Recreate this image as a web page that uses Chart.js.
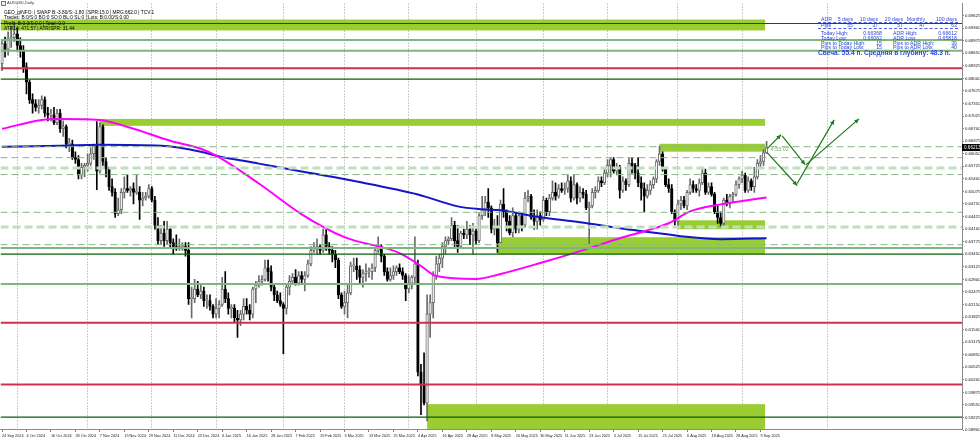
<!DOCTYPE html>
<html>
<head>
<meta charset="utf-8">
<title>AUDUSD,Daily</title>
<script src="https://cdn.jsdelivr.net/npm/chart.js@4.4.1/dist/chart.umd.min.js"></script>
<style>
  html, body { margin: 0; padding: 0; background: #fff; }
  #wrap { position: relative; width: 980px; height: 441px; overflow: hidden; font-family: 'Liberation Sans', Arial, sans-serif; }
  #chart { position: absolute; left: 0; top: 0; }
  .t { position: absolute; white-space: nowrap; line-height: 1; }
  .info { font-size: 4.8px; color: #000; }
  .adr { font-size: 5.2px; color: #2b45d8; }
  .r { transform: translateX(-100%); }
  .dash { position: absolute; left: 818px; width: 140px; height: 0; border-top: 1px dashed #4a63e0; }
  .icon { position: absolute; left: 1px; top: 1px; width: 3px; height: 3px; border: 1px solid #777; background: #eee; }
</style>
</head>
<body>
<div id="wrap">
  <canvas id="chart" width="980" height="441"></canvas>
  <div class="icon"></div>
</div>
<script>
// date labels, one every 8 bars
const dateLabels = ['24 Sep 2024', '4 Oct 2024', '16 Oct 2024', '28 Oct 2024', '7 Nov 2024', '19 Nov 2024',
    '29 Nov 2024', '11 Dec 2024', '23 Dec 2024', '6 Jan 2025', '16 Jan 2025', '28 Jan 2025', '7 Feb 2025',
    '19 Feb 2025', '3 Mar 2025', '13 Mar 2025', '25 Mar 2025', '4 Apr 2025', '16 Apr 2025', '28 Apr 2025',
    '8 May 2025', '20 May 2025', '30 May 2025', '11 Jun 2025', '23 Jun 2025', '3 Jul 2025', '15 Jul 2025',
    '25 Jul 2025', '6 Aug 2025', '18 Aug 2025', '28 Aug 2025', '9 Sep 2025'];

// bars where a new month starts (period separators)
const monthBars = [5, 28, 49, 70, 92, 112, 133, 155, 177, 198, 221, 242, 270];

const priceTicks = [0.69625, 0.69300, 0.68975, 0.68650, 0.68325, 0.68000, 0.67675, 0.67350, 0.67025, 0.66700,
    0.66375, 0.66050, 0.65725, 0.65400, 0.65075, 0.64750, 0.64425, 0.64100, 0.63775, 0.63450, 0.63125, 0.62800,
    0.62475, 0.62150, 0.61825, 0.61500, 0.61175, 0.60850, 0.60525, 0.60200, 0.59875, 0.59550, 0.59225, 0.58900];

// daily OHLC, price x 10000
const opens = [6838, 6890, 6875, 6905, 6905, 6915, 6885, 6870, 6830, 6790, 6745, 6735, 6725, 6730, 6745, 6710, 6705, 6705, 6685, 6710,
    6670, 6675, 6630, 6630, 6595, 6590, 6550, 6570, 6575, 6580, 6605, 6625, 6560, 6675, 6585, 6565, 6520, 6505, 6450, 6460,
    6505, 6515, 6510, 6515, 6505, 6505, 6485, 6490, 6495, 6515, 6485, 6420, 6380, 6400, 6380, 6410, 6375, 6365, 6360, 6365,
    6365, 6355, 6230, 6230, 6255, 6240, 6250, 6225, 6225, 6210, 6190, 6205, 6215, 6255, 6230, 6205, 6205, 6180, 6175, 6190,
    6210, 6200, 6190, 6255, 6265, 6275, 6280, 6310, 6300, 6260, 6240, 6225, 6215, 6205, 6260, 6275, 6285, 6270, 6290, 6280,
    6290, 6320, 6355, 6360, 6365, 6355, 6395, 6365, 6355, 6345, 6330, 6240, 6210, 6220, 6245, 6315, 6315, 6305, 6285, 6295,
    6300, 6300, 6310, 6355, 6365, 6340, 6300, 6280, 6290, 6300, 6310, 6300, 6290, 6255, 6270, 6285, 6320, 6040, 6010, 5960,
    6190, 6220, 6290, 6320, 6335, 6365, 6380, 6385, 6420, 6380, 6365, 6400, 6395, 6410, 6395, 6405, 6380, 6445, 6460, 6480,
    6465, 6410, 6415, 6375, 6475, 6455, 6430, 6400, 6445, 6410, 6445, 6420, 6490, 6495, 6440, 6430, 6445, 6435, 6485, 6455,
    6490, 6505, 6495, 6515, 6510, 6515, 6535, 6490, 6525, 6490, 6505, 6500, 6465, 6470, 6505, 6510, 6535, 6530, 6555, 6575,
    6590, 6560, 6570, 6510, 6535, 6525, 6580, 6575, 6555, 6530, 6515, 6495, 6510, 6525, 6540, 6585, 6605, 6565, 6525, 6515,
    6455, 6430, 6475, 6485, 6470, 6505, 6525, 6515, 6510, 6530, 6555, 6505, 6520, 6500, 6455, 6440, 6425, 6485, 6475, 6495,
    6500, 6525, 6540, 6550, 6510, 6535, 6520, 6545, 6580, 6585, 6607];
const highs = [6900, 6907, 6920, 6935, 6942, 6930, 6905, 6885, 6840, 6795, 6760, 6745, 6745, 6755, 6752, 6725, 6720, 6725, 6720, 6720,
    6690, 6680, 6645, 6640, 6610, 6600, 6580, 6580, 6605, 6620, 6630, 6688, 6685, 6680, 6595, 6570, 6540, 6515, 6490, 6515,
    6545, 6550, 6520, 6530, 6550, 6520, 6505, 6505, 6525, 6520, 6495, 6440, 6420, 6430, 6430, 6415, 6385, 6395, 6385, 6375,
    6375, 6375, 6260, 6280, 6275, 6265, 6260, 6240, 6240, 6215, 6230, 6225, 6285, 6300, 6245, 6215, 6215, 6200, 6200, 6230,
    6230, 6215, 6260, 6275, 6290, 6290, 6330, 6330, 6315, 6270, 6250, 6245, 6220, 6265, 6290, 6295, 6305, 6300, 6300, 6300,
    6330, 6365, 6375, 6385, 6370, 6410, 6409, 6375, 6365, 6355, 6335, 6245, 6250, 6270, 6325, 6335, 6335, 6315, 6305, 6320,
    6310, 6320, 6360, 6390, 6370, 6345, 6310, 6310, 6315, 6315, 6320, 6310, 6295, 6290, 6290, 6390, 6330, 6060, 6090, 6240,
    6240, 6300, 6340, 6345, 6375, 6390, 6390, 6440, 6430, 6420, 6405, 6410, 6430, 6420, 6425, 6410, 6450, 6495, 6495, 6515,
    6470, 6435, 6445, 6485, 6515, 6460, 6445, 6465, 6450, 6455, 6450, 6505, 6510, 6500, 6460, 6460, 6455, 6495, 6490, 6500,
    6535, 6530, 6525, 6530, 6530, 6550, 6545, 6550, 6530, 6520, 6515, 6510, 6480, 6515, 6520, 6545, 6545, 6565, 6590, 6595,
    6595, 6580, 6575, 6545, 6540, 6595, 6595, 6580, 6595, 6545, 6530, 6525, 6535, 6545, 6590, 6625, 6610, 6570, 6540, 6525,
    6460, 6485, 6495, 6495, 6510, 6540, 6535, 6525, 6540, 6570, 6565, 6530, 6530, 6505, 6470, 6455, 6490, 6500, 6500, 6505,
    6535, 6545, 6560, 6555, 6545, 6540, 6570, 6590, 6600, 6615, 6637];
const lows = [6820, 6855, 6860, 6880, 6895, 6870, 6855, 6815, 6760, 6735, 6710, 6715, 6710, 6720, 6700, 6690, 6690, 6680, 6680, 6660,
    6650, 6620, 6610, 6590, 6580, 6540, 6540, 6545, 6560, 6575, 6590, 6512, 6555, 6575, 6545, 6510, 6495, 6440, 6445, 6450,
    6490, 6505, 6495, 6475, 6500, 6435, 6470, 6485, 6490, 6480, 6410, 6370, 6370, 6365, 6370, 6360, 6345, 6355, 6355, 6355,
    6340, 6215, 6180, 6220, 6235, 6230, 6210, 6205, 6200, 6180, 6180, 6180, 6210, 6220, 6190, 6180, 6170, 6130, 6160, 6175,
    6190, 6175, 6180, 6220, 6260, 6265, 6275, 6275, 6250, 6225, 6220, 6210, 6088, 6190, 6240, 6270, 6265, 6265, 6270, 6250,
    6285, 6315, 6350, 6345, 6345, 6350, 6355, 6345, 6325, 6310, 6230, 6205, 6190, 6180, 6240, 6300, 6280, 6270, 6260, 6275,
    6285, 6280, 6300, 6350, 6325, 6290, 6275, 6275, 6280, 6290, 6295, 6280, 6225, 6245, 6255, 6270, 6030, 5930, 5955, 5914,
    6130, 6180, 6280, 6300, 6310, 6345, 6370, 6380, 6365, 6350, 6360, 6385, 6385, 6370, 6345, 6370, 6375, 6435, 6445, 6440,
    6400, 6395, 6350, 6375, 6440, 6405, 6395, 6390, 6400, 6400, 6405, 6415, 6480, 6435, 6410, 6410, 6420, 6430, 6445, 6445,
    6485, 6485, 6490, 6505, 6500, 6505, 6480, 6485, 6475, 6480, 6490, 6460, 6372, 6465, 6490, 6505, 6520, 6525, 6545, 6545,
    6555, 6550, 6490, 6505, 6510, 6520, 6555, 6540, 6520, 6485, 6455, 6490, 6500, 6515, 6530, 6575, 6560, 6520, 6505, 6450,
    6420, 6418, 6460, 6465, 6460, 6500, 6505, 6505, 6495, 6525, 6500, 6500, 6495, 6450, 6425, 6415, 6415, 6470, 6465, 6480,
    6495, 6515, 6530, 6505, 6505, 6510, 6505, 6540, 6570, 6575, 6606];
const closes = [6890, 6875, 6905, 6905, 6915, 6885, 6870, 6830, 6790, 6745, 6735, 6725, 6730, 6745, 6710, 6705, 6705, 6685, 6710, 6670,
    6675, 6630, 6630, 6595, 6590, 6550, 6570, 6575, 6580, 6605, 6625, 6560, 6675, 6585, 6565, 6520, 6505, 6450, 6460, 6505,
    6515, 6510, 6515, 6505, 6505, 6485, 6490, 6495, 6515, 6485, 6420, 6380, 6400, 6380, 6410, 6375, 6365, 6360, 6365, 6365,
    6355, 6230, 6230, 6255, 6240, 6250, 6225, 6225, 6210, 6190, 6205, 6215, 6255, 6230, 6205, 6205, 6180, 6175, 6190, 6210,
    6200, 6190, 6255, 6265, 6275, 6280, 6310, 6300, 6260, 6240, 6225, 6215, 6205, 6260, 6275, 6285, 6270, 6290, 6280, 6290,
    6320, 6355, 6360, 6365, 6355, 6395, 6365, 6355, 6345, 6330, 6240, 6210, 6220, 6245, 6315, 6315, 6305, 6285, 6295, 6300,
    6300, 6310, 6355, 6365, 6340, 6300, 6280, 6290, 6300, 6310, 6300, 6290, 6255, 6270, 6285, 6320, 6040, 6010, 5960, 6190,
    6220, 6290, 6320, 6335, 6365, 6380, 6385, 6420, 6380, 6365, 6400, 6395, 6410, 6395, 6405, 6380, 6445, 6460, 6480, 6465,
    6410, 6415, 6375, 6475, 6455, 6430, 6400, 6445, 6410, 6445, 6420, 6490, 6495, 6440, 6430, 6445, 6435, 6485, 6455, 6490,
    6505, 6495, 6515, 6510, 6515, 6535, 6490, 6525, 6490, 6505, 6500, 6465, 6470, 6505, 6510, 6535, 6530, 6555, 6575, 6590,
    6560, 6570, 6510, 6535, 6525, 6580, 6575, 6555, 6530, 6515, 6495, 6510, 6525, 6540, 6585, 6605, 6565, 6525, 6515, 6455,
    6430, 6475, 6485, 6470, 6505, 6525, 6515, 6510, 6530, 6555, 6505, 6520, 6500, 6455, 6440, 6425, 6485, 6475, 6495, 6500,
    6525, 6540, 6550, 6510, 6535, 6520, 6545, 6580, 6585, 6607, 6621];

// moving averages, read at sample bars
const magentaBars = [0, 13, 19, 32, 42, 55, 65, 70, 84, 98, 112, 130, 137, 142, 155, 163, 176, 189, 202, 210, 218, 225, 235, 241, 250];
const magentaMA = [0.66694, 0.66925, 0.66951, 0.66925, 0.66720, 0.66385, 0.66180, 0.66000, 0.65280, 0.64483, 0.63891, 0.63480,
    0.63146, 0.62889, 0.62811, 0.62940, 0.63223, 0.63531, 0.63865, 0.64045, 0.64251, 0.64560, 0.64740, 0.64817, 0.64920];
const blueBars = [0, 19, 32, 52, 65, 70, 84, 98, 116, 136, 149, 157, 163, 176, 189, 202, 212, 222, 235, 250];
const blueMA = [0.66231, 0.66257, 0.66282, 0.66257, 0.66103, 0.66000, 0.65794, 0.65588, 0.65331, 0.64997, 0.64688, 0.64611,
    0.64585, 0.64405, 0.64277, 0.64123, 0.64020, 0.63917, 0.63840, 0.63866];

// horizontal levels
const redLevels = [0.68262, 0.61680, 0.60078];
const greenLevels = [0.68995, 0.68713, 0.63608, 0.62682];
const darkLevels = [0.69419, 0.67980, 0.63454, 0.59237];
const dashedLevels = [0.66231, 0.65948, 0.65511, 0.64534, 0.63698];
const paleDashedLevels = [0.65678, 0.64156];

// green zones: first bar, top, bottom (all end at the last bar)
const zoneStart = [-0.49, 32, 215, 221, 162, 139];
const zoneTop = [0.69522, 0.66951, 0.66308, 0.64328, 0.63891, 0.59572];
const zoneBottom = [0.69239, 0.66771, 0.66103, 0.64097, 0.63454, 0.58900];
const zoneEnd = 249.5;

// projected path arrows: [bar, price] from -> to
const arrowFrom = [[250.2, 0.66180], [250.2, 0.66077], [255.1, 0.66514], [260.0, 0.65280], [262.9, 0.65768]];
const arrowTo = [[254.7, 0.66540], [260.0, 0.65228], [262.6, 0.65768], [272.1, 0.66925], [280.2, 0.66951]];

const FONT = "'Liberation Sans', Arial, sans-serif";
const bars = closes.map((_, i) => i);
const isUp = (i) => closes[i] >= opens[i];

function hLine(ctx, area, y, color, width, dash) {
    ctx.save();
    ctx.strokeStyle = color;
    ctx.lineWidth = width;
    ctx.setLineDash(dash || []);
    ctx.beginPath();
    ctx.moveTo(area.left, y);
    ctx.lineTo(area.right, y);
    ctx.stroke();
    ctx.restore();
}

const zonesPlugin = {
    id: 'zones',
    beforeDatasetsDraw(chart) {
        const { ctx, chartArea: a, scales: { x, y } } = chart;
        ctx.save();
        ctx.beginPath();
        ctx.rect(a.left, a.top, a.right - a.left, a.bottom - a.top);
        ctx.clip();
        ctx.fillStyle = '#9acd32';
        zoneStart.forEach((s, k) => {
            const x0 = x.getPixelForValue(s);
            const x1 = x.getPixelForValue(zoneEnd);
            const y0 = y.getPixelForValue(zoneTop[k]);
            const y1 = y.getPixelForValue(zoneBottom[k]);
            ctx.fillRect(x0, y0, x1 - x0, y1 - y0);
        });
        ctx.restore();
    },
    afterDatasetsDraw(chart) {
        const { ctx, chartArea: a, scales: { x, y } } = chart;
        ctx.save();
        ctx.beginPath();
        ctx.rect(a.left, a.top, a.right - a.left, a.bottom - a.top);
        ctx.clip();
        paleDashedLevels.forEach((p) => hLine(ctx, a, y.getPixelForValue(p), '#bfe0bf', 3, [8, 4]));
        dashedLevels.forEach((p) => hLine(ctx, a, y.getPixelForValue(p), '#86b886', 1, [7, 4]));
        greenLevels.forEach((p) => hLine(ctx, a, y.getPixelForValue(p), '#7cb87c', 2));
        darkLevels.forEach((p) => hLine(ctx, a, y.getPixelForValue(p), '#0b5d0b', 1.2));
        redLevels.forEach((p) => hLine(ctx, a, y.getPixelForValue(p), '#d0304f', 2));

        // arrows
        ctx.strokeStyle = '#1d7a1d';
        ctx.fillStyle = '#1d7a1d';
        ctx.lineWidth = 1.2;
        arrowFrom.forEach((f, k) => {
            const t = arrowTo[k];
            const x0 = x.getPixelForValue(f[0]), y0 = y.getPixelForValue(f[1]);
            const x1 = x.getPixelForValue(t[0]), y1 = y.getPixelForValue(t[1]);
            ctx.beginPath();
            ctx.moveTo(x0, y0);
            ctx.lineTo(x1, y1);
            ctx.stroke();
            const ang = Math.atan2(y1 - y0, x1 - x0);
            ctx.beginPath();
            ctx.moveTo(x1, y1);
            ctx.lineTo(x1 - 5 * Math.cos(ang - 0.45), y1 - 5 * Math.sin(ang - 0.45));
            ctx.lineTo(x1 - 5 * Math.cos(ang + 0.45), y1 - 5 * Math.sin(ang + 0.45));
            ctx.closePath();
            ctx.fill();
        });

        // bar timer next to the last candle
        const last = closes.length - 1;
        ctx.fillStyle = '#7fb07f';
        ctx.font = '5.5px ' + FONT;
        ctx.textBaseline = 'middle';
        ctx.fillText('4:53:02', x.getPixelForValue(last) + 4, y.getPixelForValue(highs[last] / 1e4) + 8);
        ctx.restore();
    },
    afterDraw(chart) {
        const { ctx, chartArea: a, scales: { y } } = chart;
        const last = closes.length - 1;
        const py = y.getPixelForValue(closes[last] / 1e4);
        ctx.save();
        ctx.fillStyle = '#000';
        ctx.fillRect(a.right, py - 3.5, 980 - a.right, 7);
        ctx.fillStyle = '#fff';
        ctx.font = '4.6px ' + FONT;
        ctx.textBaseline = 'middle';
        ctx.fillText((closes[last] / 1e4 + 0.00003).toFixed(5), a.right + 2, py);
        ctx.restore();
    },
};

const bodyColor = (c) => (isUp(c.dataIndex) ? '#ffffff' : '#000000');
const lineColor = (c) => (isUp(c.dataIndex) ? '#6a6a6a' : '#000000');

new Chart(document.getElementById('chart').getContext('2d'), {
    type: 'bar',
    data: {
        datasets: [
            {
                type: 'line',
                data: magentaBars.map((b, k) => ({ x: b, y: magentaMA[k] })),
                borderColor: '#ff00ff',
                borderWidth: 2,
                pointRadius: 0,
                cubicInterpolationMode: 'monotone',
                order: 0,
            },
            {
                type: 'line',
                data: blueBars.map((b, k) => ({ x: b, y: blueMA[k] })),
                borderColor: '#1414c8',
                borderWidth: 2,
                pointRadius: 0,
                cubicInterpolationMode: 'monotone',
                order: 0,
            },
            {
                data: bars.map((i) => ({ x: i, y: [opens[i] / 1e4, closes[i] / 1e4] })),
                backgroundColor: bodyColor,
                borderColor: lineColor,
                borderWidth: 1,
                borderSkipped: false,
                barThickness: 2.6,
                minBarLength: 1,
                grouped: false,
                order: 1,
            },
            {
                data: bars.map((i) => ({ x: i, y: [lows[i] / 1e4, highs[i] / 1e4] })),
                backgroundColor: lineColor,
                borderWidth: 0,
                barThickness: 1,
                grouped: false,
                order: 2,
            },
        ],
    },
    options: {
        responsive: false,
        animation: false,
        events: [],
        layout: { autoPadding: false, padding: { top: 1, left: 0, right: 0, bottom: 0 } },
        plugins: { legend: { display: false }, tooltip: { enabled: false } },
        scales: {
            x: {
                type: 'linear',
                position: 'bottom',
                offset: false,
                min: -0.49,
                max: 313.9,
                afterBuildTicks: (s) => { s.ticks = dateLabels.map((_, k) => ({ value: k * 8 })); },
                afterFit: (s) => { s.height = 12; },
                ticks: {
                    autoSkip: false,
                    maxRotation: 0,
                    align: 'start',
                    padding: 2,
                    color: '#222',
                    font: { family: FONT, size: 3.8 },
                    callback: (v, k) => dateLabels[k],
                },
                grid: { drawOnChartArea: false, offset: false, tickLength: 3, color: '#808080' },
                border: { color: '#8a8a8a' },
            },
            sep: {
                type: 'linear',
                position: 'bottom',
                offset: false,
                min: -0.49,
                max: 313.9,
                afterBuildTicks: (s) => { s.ticks = monthBars.map((v) => ({ value: v })); },
                afterFit: (s) => { s.height = 0; },
                ticks: { display: false },
                grid: { drawTicks: false, offset: false, color: '#9a9a9a', lineWidth: 1 },
                border: { display: false, dash: [1, 2] },
            },
            y: {
                type: 'linear',
                position: 'right',
                min: 0.58929,
                max: 0.69934,
                afterBuildTicks: (s) => { s.ticks = priceTicks.map((v) => ({ value: v })); },
                afterFit: (s) => { s.width = 18; },
                ticks: {
                    padding: 1,
                    color: '#111',
                    font: { family: FONT, size: 4.3 },
                    callback: (v) => v.toFixed(5),
                },
                grid: { drawOnChartArea: false, tickLength: 2, color: '#808080' },
                border: { color: '#8a8a8a' },
            },
        },
    },
    plugins: [zonesPlugin],
});

// chart comments (info block top-left, ADR table top-right)
const wrap = document.getElementById('wrap');
function addText(text, x, y, cls, style) {
    const el = document.createElement('div');
    el.className = 't ' + cls;
    el.textContent = text;
    el.style.left = x + 'px';
    el.style.top = y + 'px';
    if (style) Object.assign(el.style, style);
    wrap.appendChild(el);
    return el;
}
function addDash(y) {
    const el = document.createElement('div');
    el.className = 'dash';
    el.style.top = y + 'px';
    wrap.appendChild(el);
}

addText('AUDUSD,Daily', 7, 1, 'info', { fontSize: '4px', color: '#333' });
addText('GEO_gINFO: | SWAP B:-3.80/S:-1.80 | SPR:15.0 | MRG:662.0 | TCV:1', 4, 10.5, 'info');
addText('Trades: B:0/S:0 BO:0 SO:0 BL:0 SL:0 | Lots: B:0.00/S:0.00', 4, 16, 'info');
addText('Profit: B:0.0/S:0.0 | Total: 0.0', 4, 21.5, 'info');
addText('ATR14: 471.57 | ATR/SPR: 31.44', 4, 27, 'info');

const adrHead = ['ADR', '5 days', '10 days', '20 days', 'Monthly', '100 days'];
const adrPips = ['Pips', '55', '37', '57', '47', '63'];
const adrCols = [853, 878, 903, 925, 957];
addText(adrHead[0], 821, 16.5, 'adr');
addText(adrPips[0], 821, 22.8, 'adr');
adrCols.forEach((cx, k) => {
    addText(adrHead[k + 1], cx, 16.5, 'adr r');
    addText(adrPips[k + 1], cx, 22.8, 'adr r');
});
addDash(21.5);
addDash(28);
const adrRows = [
    ['Today High:', '0.66368', 'ADR High:', '0.66612'],
    ['Today Low:', '0.66062', 'ADR Low:', '0.65818'],
    ['Pips to Today High:', '15', 'Pips to ADR High:', '39'],
    ['Pips to Today Low:', '15', 'Pips to ADR Low:', '40'],
];
adrRows.forEach((row, k) => {
    const ty = 31.3 + k * 4.7;
    addText(row[0], 821, ty, 'adr');
    addText(row[1], 882, ty, 'adr r');
    addText(row[2], 893, ty, 'adr');
    addText(row[3], 957, ty, 'adr r');
});
addText('Свеча: 55.4 п. Средняя в глубину: 48.3 п.', 818, 50, 'adr', { fontSize: '6.6px', fontWeight: 'bold' });
</script>
</body>
</html>
